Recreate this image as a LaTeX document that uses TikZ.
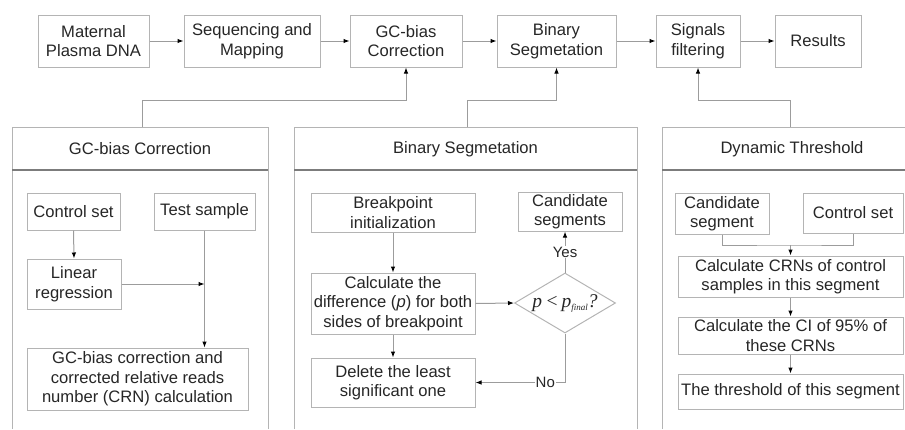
\documentclass[tikz,border=0pt]{standalone}
\usepackage{fontspec}
\setmainfont{Liberation Sans}
\newfontfamily\tnr{Liberation Serif}
\usetikzlibrary{arrows.meta,shapes.geometric}

\definecolor{boxgray}{HTML}{B4B4B4}
\definecolor{linegray}{HTML}{9C9C9C}
\definecolor{hdrgray}{HTML}{7C7C7C}
\definecolor{txtgray}{HTML}{262626}

\begin{document}
\begin{tikzpicture}[x=1pt,y=-1pt,
    font=\fontsize{16.6}{19.5}\selectfont,
    box/.style={draw=boxgray,line width=1pt,align=center,inner sep=0pt,text=txtgray},
    ln/.style={draw=linegray,line width=1pt},
    arr/.style={ln,-{Latex[length=6pt,width=4.5pt,color=black]}},
    panel/.style={draw=boxgray,line width=1pt},
    hdr/.style={draw=hdrgray,line width=1.8pt},
    lbl/.style={fill=white,inner sep=1pt,text=txtgray,font=\fontsize{15}{17}\selectfont}]

    \useasboundingbox (0,0) rectangle (905,429);
    \clip (0,0) rectangle (905,429);

    % these are the main steps
    \node[box,minimum width=111,minimum height=52] (mat) at (93.5,41) {Maternal\\Plasma DNA};
    \node[box,minimum width=136,minimum height=52] (seq) at (252,41) {Sequencing and\\Mapping};
    \node[box,minimum width=112,minimum height=52] (gcb) at (406,41) {GC-bias\\Correction};
    \node[box,minimum width=119,minimum height=52] (bin) at (556.5,41) {Binary\\Segmetation};
    \node[box,minimum width=84,minimum height=52] (sig) at (698,41) {Signals\\filtering};
    \node[box,minimum width=86,minimum height=52] (res) at (818,41) {Results};

    \draw[arr] (mat.east) -- (seq.west);
    \draw[arr] (seq.east) -- (gcb.west);
    \draw[arr] (gcb.east) -- (bin.west);
    \draw[arr] (bin.east) -- (sig.west);
    \draw[arr] (sig.east) -- (res.west);

    % these are the panels
    \draw[panel] (12,429) -- (12,127) -- (268,127) -- (268,429);
    \draw[hdr] (12,170) -- (268,170);
    \node[text=txtgray] (gchd) at (140,149) {GC-bias Correction};

    \draw[panel] (294,429) -- (294,127) -- (637,127) -- (637,429);
    \draw[hdr] (294,170) -- (637,170);
    \node[text=txtgray] (bshd) at (465.5,149) {Binary Segmetation};

    \draw[panel] (662,429) -- (662,127) -- (922,127) -- (922,429);
    \draw[hdr] (662,170) -- (922,170);
    \node[text=txtgray] (dthd) at (792,149) {Dynamic Threshold};

    \coordinate (gcp) at (142,127);
    \coordinate (gcm) at (142,100);
    \coordinate (bsp) at (467,127);
    \coordinate (bsm) at (467,100);
    \coordinate (dtp) at (790,127);
    \coordinate (dtm) at (790,100);
    \draw[arr] (gcp) -- (gcm) -| (gcb.south);
    \draw[arr] (bsp) -- (bsm) -| (bin.south);
    \draw[arr] (dtp) -- (dtm) -| (sig.south);

    % gc-bias correction
    \node[box,minimum width=93,minimum height=37] (ctl) at (73.5,211.5) {Control set};
    \node[box,minimum width=101,minimum height=37] (tst) at (204.5,211.5) {Test sample};
    \node[box,minimum width=94,minimum height=50] (lin) at (74,284) {Linear\\regression};
    \node[box,minimum width=221,minimum height=62] (crc) at (137.5,379) {GC-bias correction and\\corrected relative reads\\number (CRN) calculation};

    \draw[arr] (ctl.south) -- (lin.north);
    \draw[arr] (lin.east) -- (tst.south |- lin.east);
    \draw[arr] (tst.south) -- (tst.south |- crc.north);

    % binary segmetation
    \node[box,minimum width=164,minimum height=39] (bpi) at (393,212.5) {Breakpoint\\initialization};
    \node[box,minimum width=104,minimum height=39] (cnd) at (570,211.5) {Candidate\\segments};
    \node[box,minimum width=164,minimum height=61] (dif) at (393,303.5) {Calculate the\\difference (\textit{p}) for both\\sides of breakpoint};
    \node[box,diamond,aspect=1.68,minimum width=101,minimum height=60] (tsp) at (565,303)
        {\tnr\itshape\fontsize{19.5}{19.5}\selectfont p\,<\,p\raisebox{-3pt}{\fontsize{9}{9}\selectfont final}?};
    \node[box,minimum width=164,minimum height=49] (del) at (393,382.5) {Delete the least\\significant one};

    \draw[arr] (bpi.south) -- (dif.north);
    \draw[arr] (dif.east) -- (tsp.west);
    \draw[arr] (dif.south) -- (del.north);
    \draw[arr] (tsp.north) -- node[lbl] {Yes} (tsp.north |- cnd.south);
    \draw[arr] (tsp.south) |- node[lbl,pos=0.61] {No} (del.east);

    % dynamic threshold
    \node[box,minimum width=94,minimum height=41] (cds) at (722,213.5) {Candidate\\segment};
    \node[box,minimum width=100,minimum height=40] (cst) at (853,213) {Control set};
    \node[box,minimum width=225,minimum height=41] (crn) at (790.5,276.5) {Calculate CRNs of control\\samples in this segment};
    \node[box,minimum width=225,minimum height=37] (cin) at (790.5,335.5) {Calculate the CI of 95\% of\\these CRNs};
    \node[box,minimum width=225,minimum height=35] (thr) at (790.5,391.5) {The threshold of this segment};

    \coordinate (jn) at (790.5,245);
    \draw[ln] (cds.south) |- (jn) -| (cst.south);
    \draw[arr] (jn) -- (crn.north);
    \draw[arr] (crn.south) -- (cin.north);
    \draw[arr] (cin.south) -- (thr.north);

\end{tikzpicture}
\end{document}
